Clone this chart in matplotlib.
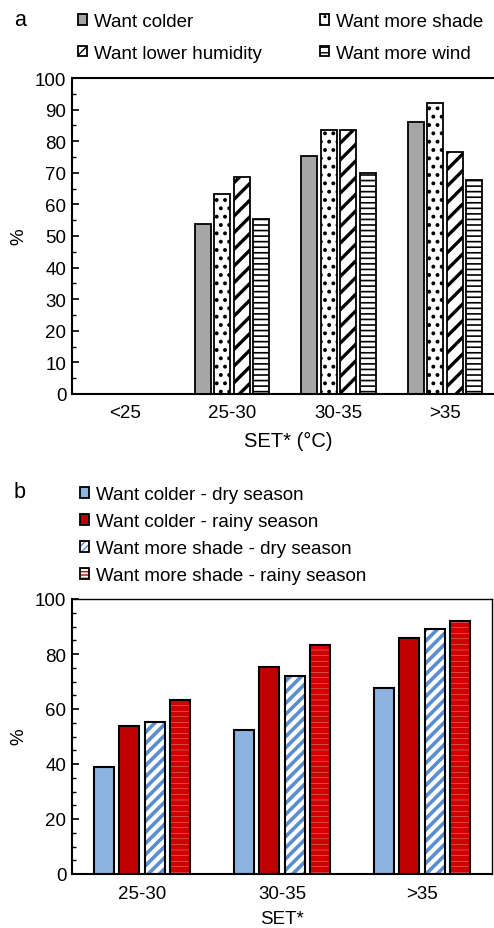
import matplotlib
matplotlib.use("Agg")
import matplotlib.pyplot as plt
import numpy as np
from matplotlib.ticker import MultipleLocator
from matplotlib.patches import Patch

plt.rcParams['font.family'] = ['Liberation Sans', 'DejaVu Sans']

# ---- data panel a ----
cats_a = ['<25', '25-30', '30-35', '>35']
want_colder = [0, 53.9, 75.4, 86.1]
want_shade = [0, 63.3, 83.4, 92.1]
want_humidity = [0, 68.6, 83.4, 76.6]
want_wind = [0, 55.3, 70.0, 67.7]

# ---- data panel b ----
cats_b = ['25-30', '30-35', '>35']
colder_dry = [38.8, 52.4, 67.5]
colder_rainy = [53.9, 75.4, 85.9]
shade_dry = [55.4, 71.9, 89.0]
shade_rainy = [63.2, 83.2, 91.9]

W, H = 494, 929
fig = plt.figure(figsize=(W/100, H/100), dpi=100)

FS = 13.5

def fx(px): return px / W
def fy(py): return 1 - py / H

# ---------- Panel a ----------
axa = fig.add_axes([fx(72), fy(395), 1.0 - fx(72) + 0.02, fy(79) - fy(395)])
x = np.arange(len(cats_a))
bw = 0.15
pitch = 0.183
offs = [-1.5*pitch, -0.5*pitch, 0.5*pitch, 1.5*pitch]

h1 = axa.bar(x + offs[0], want_colder, bw, color='#a6a6a6', edgecolor='black', linewidth=1.3)
with plt.rc_context({'hatch.linewidth': 1.6}):
    h2 = axa.bar(x + offs[1], want_shade, bw, color='white', edgecolor='black', linewidth=1.3, hatch='..')
with plt.rc_context({'hatch.linewidth': 2.4}):
    h3 = axa.bar(x + offs[2], want_humidity, bw, color='white', edgecolor='black', linewidth=1.3, hatch='//')
with plt.rc_context({'hatch.linewidth': 1.2}):
    h4 = axa.bar(x + offs[3], want_wind, bw, color='white', edgecolor='black', linewidth=1.3, hatch='---')

axa.set_xlim(-0.5, 3.46 + 0.02*W/106.75)
axa.set_ylim(0, 100)
axa.yaxis.set_major_locator(MultipleLocator(10))
axa.yaxis.set_minor_locator(MultipleLocator(5))
axa.tick_params(axis='y', which='major', direction='in', length=5, width=1.2, labelsize=FS, pad=4)
axa.tick_params(axis='y', which='minor', direction='in', length=3, width=1.0)
axa.set_xticks(x)
axa.set_xticklabels(cats_a)
axa.tick_params(axis='x', length=0, labelsize=FS, pad=7)
for s in ['left', 'bottom', 'top']:
    axa.spines[s].set_linewidth(1.5)
axa.spines['right'].set_visible(False)
axa.set_ylabel('%', fontsize=FS)
axa.yaxis.set_label_coords(fx(27), fy(237), transform=fig.transFigure)
axa.set_xlabel('SET* (°C)', fontsize=FS+1, labelpad=7)

leg_a = axa.legend([h1, h3, h2, h4],
                   ['Want colder', 'Want lower humidity', 'Want more shade', 'Want more wind'],
                   ncol=2, loc='upper left', bbox_to_anchor=(fx(78), fy(14)),
                   bbox_transform=fig.transFigure, frameon=False, fontsize=FS,
                   handlelength=0.5, handleheight=0.5, handletextpad=0.35,
                   columnspacing=3.1, labelspacing=0.78, borderaxespad=0, borderpad=0)
fig.text(fx(20), fy(20), 'a', fontsize=FS+2, ha='center', va='center')

# ---------- Panel b ----------
axb = fig.add_axes([fx(72), fy(875), fx(492) - fx(72), fy(600) - fy(875)])
xb = np.arange(len(cats_b))
bw2 = 0.146
p2 = 0.182
o2 = [-1.5*p2, -0.5*p2, 0.5*p2, 1.5*p2]

g1 = axb.bar(xb + o2[0], colder_dry, bw2, color='#8db3e2', edgecolor='black', linewidth=1.5)
g2 = axb.bar(xb + o2[1], colder_rainy, bw2, color='#c00000', edgecolor='black', linewidth=1.5)
with plt.rc_context({'hatch.linewidth': 2.6}):
    axb.bar(xb + o2[2], shade_dry, bw2, color='white', edgecolor='#5b8ed1', linewidth=0, hatch='///')
with plt.rc_context({'hatch.linewidth': 3.8}):
    axb.bar(xb + o2[3], shade_rainy, bw2, color='white', edgecolor='#d00000', linewidth=0, hatch='---')
axb.bar(xb + o2[2], shade_dry, bw2, color='none', edgecolor='black', linewidth=1.5)
axb.bar(xb + o2[3], shade_rainy, bw2, color='none', edgecolor='black', linewidth=1.5)

with plt.rc_context({'hatch.linewidth': 2.5}):
    lp3 = Patch(facecolor='white', edgecolor='#5b8ed1', hatch='/////', linewidth=0)
with plt.rc_context({'hatch.linewidth': 3.0}):
    lp4 = Patch(facecolor='white', edgecolor='#d00000', hatch='-----', linewidth=0)
lb3 = Patch(facecolor='none', edgecolor='black', linewidth=1.3)
lp1 = Patch(facecolor='#8db3e2', edgecolor='black', linewidth=1.3)
lp2 = Patch(facecolor='#c00000', edgecolor='black', linewidth=1.3)

axb.set_xlim(-0.5, 2.5)
axb.set_ylim(0, 100)
axb.yaxis.set_major_locator(MultipleLocator(20))
axb.yaxis.set_minor_locator(MultipleLocator(5))
axb.tick_params(axis='y', which='major', direction='in', length=5, width=1.2, labelsize=FS, pad=4)
axb.tick_params(axis='y', which='minor', direction='in', length=3, width=1.0)
axb.set_xticks(xb)
axb.set_xticklabels(cats_b)
axb.tick_params(axis='x', length=0, labelsize=FS, pad=8)
for s in ['left', 'bottom']:
    axb.spines[s].set_linewidth(1.5)
for s in ['top', 'right']:
    axb.spines[s].set_linewidth(1.0)
axb.set_ylabel('%', fontsize=FS)
axb.yaxis.set_label_coords(fx(27), fy(737), transform=fig.transFigure)
axb.set_xlabel('SET*', fontsize=FS, labelpad=6)

leg_b = axb.legend([lp1, lp2, (lp3, lb3), (lp4, lb3)],
                   ['Want colder - dry season', 'Want colder - rainy season',
                    'Want more shade - dry season', 'Want more shade - rainy season'],
                   loc='upper left', bbox_to_anchor=(fx(80), fy(487)),
                   bbox_transform=fig.transFigure, frameon=False, fontsize=FS,
                   handlelength=0.5, handleheight=0.5, handletextpad=0.35,
                   labelspacing=0.54, borderaxespad=0, borderpad=0)
fig.text(fx(20), fy(493), 'b', fontsize=FS+2, ha='center', va='center')

fig.savefig('out.png', dpi=100)
